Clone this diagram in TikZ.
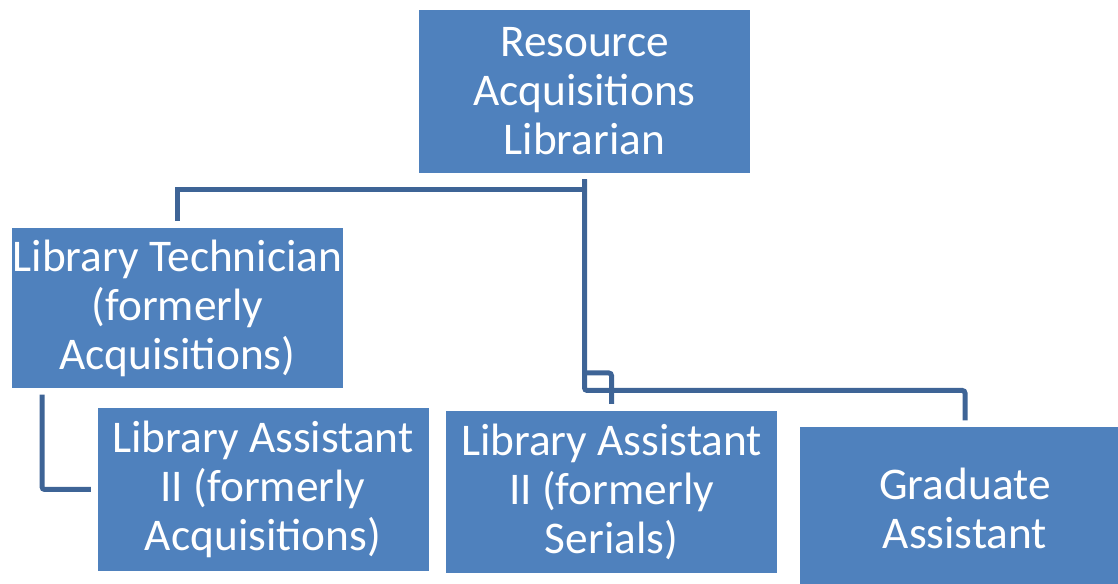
\documentclass[tikz,border=0pt]{standalone}
\usepackage{fontspec}
\setmainfont{Carlito}
\definecolor{boxfill}{RGB}{79,129,189}
\definecolor{linkline}{RGB}{62,100,150}
\tikzset{every picture/.style={line width=0.75pt}}
\tikzset{
  orgbox/.style={fill=boxfill, text=white, minimum width=248.25pt, minimum height=122pt,
    inner sep=0pt, outer sep=5pt, align=center, font=\fontsize{34}{36.75}\selectfont},
  orglink/.style={draw=linkline, line width=3.75pt}
}

\begin{document}
\begin{tikzpicture}[x=0.75pt,y=0.75pt,yscale=-1,xscale=1]
\clip (0,0) rectangle (1118,584);

% Shape: Rectangle
\node (top) at (584.5,91.5) [orgbox] {Resource\\Acquisitions\\Librarian};
% Shape: Rectangle
\node (tech) at (177.5,308) [orgbox, minimum height=120pt] {Library Technician\\(formerly\\Acquisitions)};
% Shape: Rectangle
\node (asst) at (263,489.5) [orgbox] {Library Assistant\\II (formerly\\Acquisitions)};
% Shape: Rectangle
\node (serials) at (611.5,492) [orgbox] {Library Assistant\\II (formerly\\Serials)};
% Shape: Rectangle
\node (grad) at (965,508.5) [orgbox] {Graduate\\Assistant};

%Straight Lines
\draw [orglink] (top.south) |- ([yshift=-24pt]tech.north) -- (tech.north);
%Straight Lines
\draw [orglink, rounded corners=2pt] (top.south) |- ([yshift=-22.5pt]grad.north) -- (grad.north);
%Straight Lines
\draw [orglink, rounded corners=2pt] ([yshift=-23.25pt]serials.north -| top.south) -| (serials.north);
%Straight Lines
\draw [orglink, rounded corners=2pt] ([xshift=-101.6pt]tech.south) |- (asst.west);

\end{tikzpicture}
\end{document}
